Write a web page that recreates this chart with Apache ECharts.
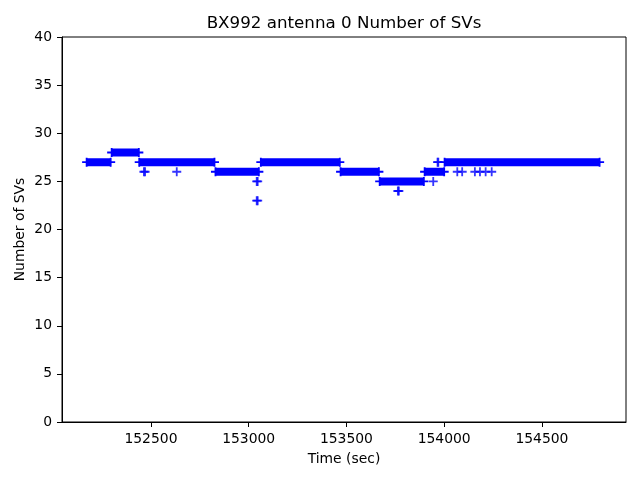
<!DOCTYPE html>
<html>
<head>
<meta charset="utf-8">
<script src="https://cdn.jsdelivr.net/npm/echarts@6/dist/echarts.min.js"></script>
<style>html,body{margin:0;padding:0;background:#fff}#c{width:640px;height:480px}</style>
</head>
<body>
<div id="c"></div>
<script>
// Runs of constant SV count: start time, end time, value
var segStart = [152171, 152299, 152440, 152830, 153062, 153470, 153670, 153900, 154002];
var segEnd   = [152294, 152438, 152825, 153052, 153466, 153666, 153896, 154000, 154795];
var segValue = [27, 28, 27, 26, 27, 26, 25, 26, 27];
// Isolated samples
var outTime  = [152464, 152470, 152632, 153041, 153046, 153041, 153046, 153763, 153768, 153944, 153966, 153970, 154067, 154092, 154157, 154183, 154212, 154243];
var outValue = [26, 26, 26, 25, 25, 23, 23, 24, 24, 25, 27, 27, 26, 26, 26, 26, 26, 26];
var xTicks = [152500, 153000, 153500, 154000, 154500];
var yTicks = [0, 5, 10, 15, 20, 25, 30, 35, 40];

var plus = 'path://M4,0 H6 V4 H10 V6 H6 V10 H4 V6 H0 V4 H4 Z';
var bandData = [];
for (var i = 0; i < segStart.length; i++) {
  bandData.push([segStart[i], segValue[i]]);
  bandData.push([segEnd[i], segValue[i]]);
  bandData.push([segEnd[i], '-']);
}
var outData = outTime.map(function (t, i) { return [t, outValue[i]]; });
var font = 'DejaVu Sans';
var chart = echarts.init(document.getElementById('c'), null, {renderer: 'canvas'});
chart.setOption({
  animation: false,
  backgroundColor: '#fff',
  textStyle: {fontFamily: font},
  grid: {left: 62, right: 14, top: 37, bottom: 58, show: true, borderColor: '#000', borderWidth: 1, backgroundColor: 'transparent'},
  graphic: [{
    type: 'text', x: 344, y: 24,
    style: {text: 'BX992 antenna 0 Number of SVs', font: '16.7px "DejaVu Sans"', fill: '#000', textAlign: 'center', textVerticalAlign: 'middle'}
  }],
  xAxis: {
    type: 'value', min: 152045, max: 154930,
    name: 'Time (sec)', nameLocation: 'middle', nameGap: 30,
    nameTextStyle: {fontSize: 13.9, color: '#000', fontFamily: font},
    axisLine: {show: true, lineStyle: {color: '#000', width: 1}},
    axisTick: {show: true, length: 5, lineStyle: {color: '#000'}, customValues: xTicks},
    axisLabel: {fontSize: 13.9, color: '#000', margin: 10, fontFamily: font, customValues: xTicks,
      formatter: function (v) { return String(v); }},
    splitLine: {show: false}
  },
  yAxis: {
    type: 'value', min: 0, max: 40, interval: 5,
    name: 'Number of SVs', nameLocation: 'middle', nameGap: 35, nameMoveOverlap: false,
    nameTextStyle: {fontSize: 13.9, color: '#000', fontFamily: font},
    axisLine: {show: true, lineStyle: {color: '#000', width: 1}},
    axisTick: {show: true, length: 5, lineStyle: {color: '#000'}},
    axisLabel: {fontSize: 13.9, color: '#000', margin: 10, fontFamily: font},
    splitLine: {show: false}
  },
  series: [{
    type: 'line', data: bandData, connectNulls: false,
    symbol: plus, symbolSize: 9, showSymbol: true, showAllSymbol: true,
    itemStyle: {color: '#0000ff'},
    lineStyle: {color: '#0000ff', width: 8, cap: 'butt'}
  }, {
    type: 'scatter', data: outData,
    symbol: plus, symbolSize: 9,
    itemStyle: {color: '#0000ff'}
  }]
});
</script>
</body>
</html>
